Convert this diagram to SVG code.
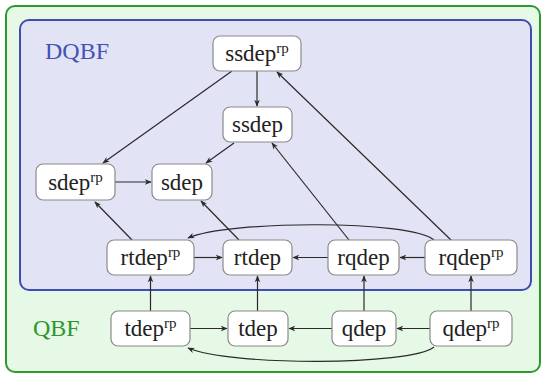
<svg xmlns="http://www.w3.org/2000/svg" width="541" height="374" viewBox="0 0 541 374">
<style>
.n rect{fill:#fff;stroke:#8a8a8a;stroke-width:1.2}
.n text{font-family:"Liberation Serif",serif;font-size:23px;fill:#222;text-anchor:middle}
.sup{font-size:15px}
.e path{fill:none;stroke:#2a2a2a;stroke-width:1.2;marker-end:url(#ah)}
.lbl{font-family:"Liberation Serif",serif;font-size:24px}
</style>
<defs>
<marker id="ah" viewBox="0 0 10 10" refX="9" refY="5" markerWidth="7" markerHeight="7" orient="auto" markerUnits="userSpaceOnUse">
<path d="M0,1 L10,5 L0,9 L3,5 Z" fill="#2a2a2a"/>
</marker>
</defs>
<rect x="6" y="6" width="534" height="366" rx="9" fill="#e6f8e6" stroke="#2e9a2e" stroke-width="2"/>
<rect x="20" y="20" width="511" height="270" rx="9" fill="#e3e3f6" stroke="#3d4db3" stroke-width="2"/>
<text class="lbl" x="45" y="59" fill="#4352b5">DQBF</text>
<text class="lbl" x="33" y="336" fill="#2e962e">QBF</text>
<g class="e">
<path d="M257,71 L257,106"/>
<path d="M232,71 L103,163"/>
<path d="M234,143 L206,163"/>
<path d="M115,182 L151,182"/>
<path d="M132,240 L95,202"/>
<path d="M239,240 L201,201"/>
<path d="M349,240 L272,143"/>
<path d="M451,240 L277,72"/>
<path d="M194,257.5 L222,257.5"/>
<path d="M328,257.5 L293,257.5"/>
<path d="M425,257.5 L400,257.5"/>
<path d="M434,240 C410,220 230,220 188,238"/>
<path d="M150.5,311 L150.5,276"/>
<path d="M257.5,311 L257.5,276"/>
<path d="M364,311 L364,276"/>
<path d="M471,311 L471,276"/>
<path d="M190,328.5 L227,328.5"/>
<path d="M332,328.5 L289,328.5"/>
<path d="M430,328.5 L397,328.5"/>
<path d="M434,347 C410,366 230,366 188,348"/>
</g>
<g id="ssdeprp" class="n"><rect x="213" y="36" width="88" height="35" rx="7"/><text x="257" y="61">ssdep<tspan class="sup" dy="-8">rp</tspan></text></g>
<g id="ssdep" class="n"><rect x="223" y="107" width="69" height="35" rx="7"/><text x="257.5" y="132">ssdep</text></g>
<g id="sdeprp" class="n"><rect x="36" y="164" width="79" height="36" rx="7"/><text x="75.5" y="189.5">sdep<tspan class="sup" dy="-8">rp</tspan></text></g>
<g id="sdep" class="n"><rect x="152" y="164" width="60" height="36" rx="7"/><text x="182" y="189.5">sdep</text></g>
<g id="rtdeprp" class="n"><rect x="107" y="240" width="87" height="35" rx="7"/><text x="150.5" y="265">rtdep<tspan class="sup" dy="-8">rp</tspan></text></g>
<g id="rtdep" class="n"><rect x="223" y="240" width="69" height="35" rx="7"/><text x="257.5" y="265">rtdep</text></g>
<g id="rqdep" class="n"><rect x="328" y="240" width="71" height="35" rx="7"/><text x="363.5" y="265">rqdep</text></g>
<g id="rqdeprp" class="n"><rect x="425" y="240" width="92" height="35" rx="7"/><text x="471" y="265">rqdep<tspan class="sup" dy="-8">rp</tspan></text></g>
<g id="tdeprp" class="n"><rect x="111" y="311" width="79" height="35" rx="7"/><text x="150.5" y="336">tdep<tspan class="sup" dy="-8">rp</tspan></text></g>
<g id="tdep" class="n"><rect x="228" y="311" width="60" height="35" rx="7"/><text x="258" y="336">tdep</text></g>
<g id="qdep" class="n"><rect x="332" y="311" width="64" height="35" rx="7"/><text x="364" y="336">qdep</text></g>
<g id="qdeprp" class="n"><rect x="430" y="311" width="82" height="35" rx="7"/><text x="471" y="336">qdep<tspan class="sup" dy="-8">rp</tspan></text></g>
</svg>
